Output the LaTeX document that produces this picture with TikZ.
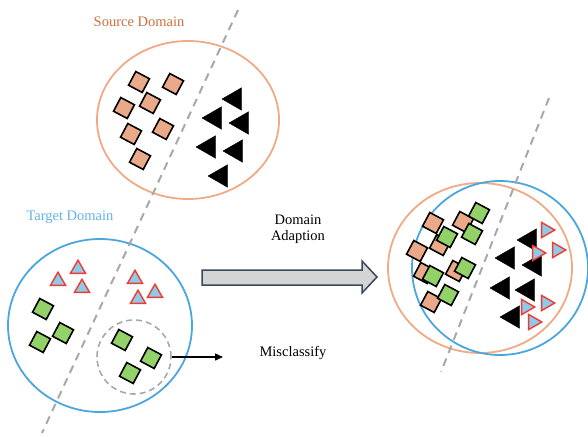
\documentclass[tikz,border=0pt]{standalone}
\usepackage{fontspec}
\setmainfont{Liberation Serif}
\usetikzlibrary{shapes.geometric,arrows.meta}

\definecolor{srcring}{RGB}{240,170,134}
\definecolor{srctext}{RGB}{200,112,62}
\definecolor{tgtring}{RGB}{76,166,222}
\definecolor{tgttext}{RGB}{98,178,230}
\definecolor{sqorange}{RGB}{234,170,138}
\definecolor{sqgreen}{RGB}{146,210,104}
\definecolor{triblue}{RGB}{142,203,232}
\definecolor{trired}{RGB}{242,58,48}
\definecolor{splitgray}{RGB}{168,168,168}
\definecolor{arrowfill}{RGB}{212,212,212}
\definecolor{arrowedge}{RGB}{58,72,90}

\begin{document}
\begin{tikzpicture}[x=1pt,y=-1pt,
  font=\fontsize{14.5}{17}\selectfont,
  sq/.style={rectangle, draw=black, line width=1.6pt, minimum size=15.5pt, inner sep=0pt, rotate=-28},
  osq/.style={sq, fill=sqorange},
  gsq/.style={sq, fill=sqgreen},
  btri/.style={regular polygon, regular polygon sides=3, fill=black, draw=black,
    line width=0.4pt, minimum size=26pt, inner sep=0pt, shape border rotate=90},
  ltri/.style={regular polygon, regular polygon sides=3, fill=triblue, draw=trired,
    line width=1.4pt, minimum size=17.5pt, inner sep=0pt},
  rtri/.style={ltri, shape border rotate=-90},
  ring/.style={ellipse, line width=1.8pt, inner sep=0pt},
  split/.style={draw=splitgray, line width=2pt, dash pattern=on 8pt off 6pt},
]
\useasboundingbox (0,0) rectangle (588,436);

% domain rings
\node[ring, draw=srcring, minimum width=182pt, minimum height=158pt] (src) at (188,120) {};
\node[ring, draw=tgtring, minimum width=184pt, minimum height=173pt] (tgt) at (100,325.5) {};
\node[ring, draw=srcring, minimum width=184pt, minimum height=170pt] (adsrc) at (480,268) {};
\node[ring, draw=tgtring, minimum width=176pt, minimum height=174pt] (adtgt) at (500,268) {};

% decision boundaries
\coordinate (b1a) at (238,10);
\coordinate (b1b) at (42,433);
\coordinate (b2a) at (549,98);
\coordinate (b2b) at (441,372);
\draw[split] (b1a) -- (b1b);
\draw[split] (b2a) -- (b2b);

% labels
\node[text=srctext] (srclabel) at (139,22) {Source Domain};
\node[text=tgttext] (tgtlabel) at (70,217) {Target Domain};
\node[align=center, text=black] (adapt) at (298,229.5) {Domain\\[-1pt]Adaption};
\node[text=black] (miss) at (293,353) {Misclassify};

% source samples
\node[osq] (s1) at (139,82) {};
\node[osq] (s2) at (173,84) {};
\node[osq] (s3) at (150,103) {};
\node[osq] (s4) at (124,108) {};
\node[osq] (s5) at (131,134) {};
\node[osq] (s6) at (163,129) {};
\node[osq] (s7) at (140,159) {};
\node[btri] (k1) at (235,99) {};
\node[btri] (k2) at (215,118) {};
\node[btri] (k3) at (242,123) {};
\node[btri] (k4) at (209,147) {};
\node[btri] (k5) at (236,151) {};
\node[btri] (k6) at (221,176) {};

% target samples
\node[ltri] (t1) at (58,281) {};
\node[ltri] (t2) at (78,269) {};
\node[ltri] (t3) at (82,288) {};
\node[ltri] (t4) at (135,279) {};
\node[ltri] (t5) at (155,293) {};
\node[ltri] (t6) at (138,299) {};
\node[gsq] (g1) at (43,309) {};
\node[gsq] (g2) at (40,342) {};
\node[gsq] (g3) at (63,333) {};
\node[gsq] (g4) at (122,340) {};
\node[gsq] (g5) at (151,358) {};
\node[gsq] (g6) at (130,373) {};

% misclassified group
\node[circle, draw=splitgray, line width=1.6pt, dash pattern=on 6pt off 4pt,
  minimum size=74pt, inner sep=0pt] (wrong) at (134,357) {};
\coordinate (wrongend) at (223,357);
\draw[line width=1.5pt, -{Triangle[length=8pt,width=7pt]}] (wrong.east) -- (wrongend);

% adaptation arrow
\draw[fill=arrowfill, draw=arrowedge, line width=1.5pt, line join=miter]
  (202,270) -- (362,270) -- (362,261) -- (377,277) -- (362,293) -- (362,285) -- (202,285) -- cycle;

% adapted samples: source squares under target squares
\node[osq] (as1) at (433,223) {};
\node[osq] (as2) at (463,222) {};
\node[osq] (as3) at (440,245) {};
\node[osq] (as4) at (417,251) {};
\node[osq] (as5) at (424,273) {};
\node[osq] (as6) at (456,271) {};
\node[osq] (as7) at (431,302) {};
\node[gsq] (ag1) at (479,213) {};
\node[gsq] (ag2) at (447,237) {};
\node[gsq] (ag3) at (472,234) {};
\node[gsq] (ag4) at (433,276) {};
\node[gsq] (ag5) at (465,268) {};
\node[gsq] (ag6) at (448,295) {};
\node[btri] (ak1) at (530,240) {};
\node[btri] (ak2) at (508,258) {};
\node[btri] (ak3) at (535,265) {};
\node[btri] (ak4) at (503,288) {};
\node[btri] (ak5) at (528,290) {};
\node[btri] (ak6) at (513,317) {};
\node[rtri] (at1) at (546,230) {};
\node[rtri] (at2) at (537,253) {};
\node[rtri] (at3) at (557,250) {};
\node[rtri] (at4) at (526,307) {};
\node[rtri] (at5) at (546,303) {};
\node[rtri] (at6) at (533,322) {};
\end{tikzpicture}
\end{document}
